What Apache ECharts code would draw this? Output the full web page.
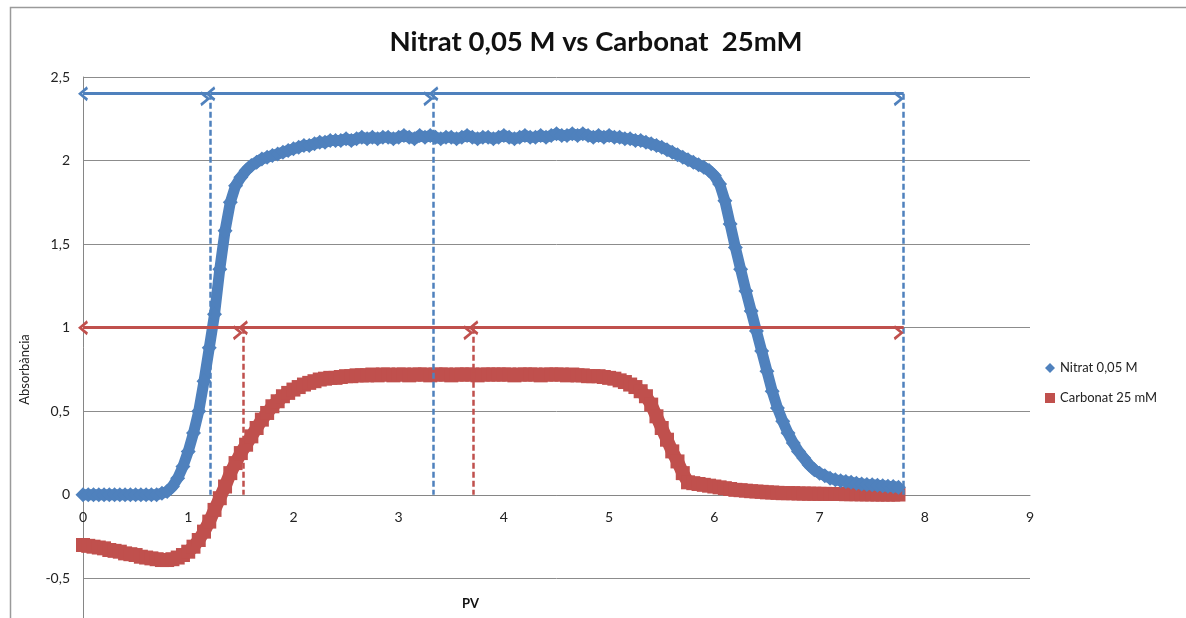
<!DOCTYPE html>
<html><head><meta charset="utf-8">
<script src="https://cdn.jsdelivr.net/npm/echarts@6/dist/echarts.min.js"></script>
<style>html,body{margin:0;padding:0;background:#fff}#c{width:1186px;height:618px}</style>
</head><body><div id="c"></div>
<script>
const pv = [
 0,0.05,0.1,0.15,0.2,0.25,0.3,0.35,0.4,0.45,0.5,0.55,0.6,0.65,0.7,0.75,0.8,0.85,0.9,0.95,
 1,1.05,1.1,1.15,1.2,1.25,1.3,1.35,1.4,1.45,1.5,1.55,1.6,1.65,1.7,1.75,1.8,1.85,1.9,1.95,
 2,2.05,2.1,2.15,2.2,2.25,2.3,2.35,2.4,2.45,2.5,2.55,2.6,2.65,2.7,2.75,2.8,2.85,2.9,2.95,
 3,3.05,3.1,3.15,3.2,3.25,3.3,3.35,3.4,3.45,3.5,3.55,3.6,3.65,3.7,3.75,3.8,3.85,3.9,3.95,
 4,4.05,4.1,4.15,4.2,4.25,4.3,4.35,4.4,4.45,4.5,4.55,4.6,4.65,4.7,4.75,4.8,4.85,4.9,4.95,
 5,5.05,5.1,5.15,5.2,5.25,5.3,5.35,5.4,5.45,5.5,5.55,5.6,5.65,5.7,5.75,5.8,5.85,5.9,5.95,
 6,6.05,6.1,6.15,6.2,6.25,6.3,6.35,6.4,6.45,6.5,6.55,6.6,6.65,6.7,6.75,6.8,6.85,6.9,6.95,
 7,7.05,7.1,7.15,7.2,7.25,7.3,7.35,7.4,7.45,7.5,7.55,7.6,7.65,7.7,7.75
];
const nitrat = [
 0,0,0,0,0,0,0,0,0,0,0,0,0,0,0,0.01,0.02,0.05,0.10,0.17,
 0.26,0.37,0.50,0.68,0.88,1.08,1.35,1.58,1.75,1.85,1.90,1.94,1.97,1.99,2.01,2.02,2.03,2.04,2.05,2.06,
 2.07,2.08,2.09,2.09,2.10,2.11,2.11,2.12,2.12,2.12,2.13,2.12,2.13,2.14,2.13,2.14,2.13,2.14,2.14,2.13,
 2.14,2.15,2.14,2.13,2.15,2.14,2.15,2.14,2.13,2.14,2.14,2.13,2.14,2.15,2.14,2.13,2.14,2.14,2.13,2.14,
 2.15,2.14,2.13,2.14,2.15,2.14,2.14,2.15,2.14,2.15,2.16,2.15,2.15,2.16,2.15,2.16,2.15,2.14,2.15,2.14,
 2.15,2.14,2.14,2.13,2.13,2.12,2.12,2.11,2.10,2.09,2.08,2.065,2.05,2.035,2.02,2.005,1.99,1.975,1.96,1.94,
 1.91,1.86,1.76,1.62,1.48,1.35,1.22,1.10,0.98,0.86,0.74,0.62,0.52,0.44,0.37,0.31,0.26,0.22,0.18,0.15,
 0.13,0.115,0.10,0.09,0.085,0.08,0.075,0.07,0.065,0.062,0.06,0.058,0.055,0.052,0.05,0.045
];
const carbonat = [
 -0.30,-0.305,-0.31,-0.315,-0.32,-0.33,-0.335,-0.34,-0.35,-0.355,-0.36,-0.37,-0.375,-0.38,-0.385,-0.39,-0.39,-0.385,-0.375,-0.36,
 -0.34,-0.31,-0.27,-0.22,-0.16,-0.09,-0.02,0.05,0.13,0.19,0.25,0.30,0.35,0.40,0.45,0.49,0.53,0.56,0.59,0.61,
 0.63,0.645,0.66,0.67,0.68,0.69,0.695,0.70,0.70,0.705,0.71,0.71,0.715,0.715,0.715,0.72,0.715,0.72,0.72,0.715,
 0.72,0.72,0.715,0.72,0.72,0.72,0.715,0.72,0.72,0.72,0.715,0.72,0.72,0.72,0.72,0.715,0.72,0.72,0.72,0.72,
 0.72,0.72,0.715,0.72,0.72,0.72,0.72,0.715,0.72,0.72,0.72,0.72,0.715,0.72,0.715,0.715,0.71,0.71,0.71,0.705,
 0.70,0.695,0.685,0.675,0.66,0.645,0.62,0.59,0.54,0.47,0.40,0.33,0.26,0.20,0.13,0.075,0.07,0.065,0.06,0.055,
 0.05,0.045,0.04,0.035,0.03,0.028,0.025,0.022,0.02,0.018,0.015,0.014,0.012,0.01,0.01,0.01,0.008,0.008,0.007,0.007,
 0.006,0.006,0.005,0.005,0.005,0.004,0.004,0.004,0.003,0.003,0.003,0.002,0.002,0.002,0.002,0.002
];
const seriesNames = ['Nitrat 0,05 M', 'Carbonat 25 mM'];
const titleText = 'Nitrat 0,05 M vs Carbonat  25mM';
const xName = 'PV';
const yName = 'Absorbància';
// annotation arrows (PV positions and level in absorbance)
const blueMarks = [0, 1.21, 3.33, 7.8];
const blueLevel = 2.4;
const redMarks = [0, 1.52, 3.71, 7.8];
const redLevel = 1.0;
const redDropMarks = [1.52, 3.71];

const BLUE = '#4F81BD', RED = '#C0504D';
const FONT = 'Lato, "Open Sans", sans-serif';
const chev = 'path://M0,10 L6,0 L12,10 L9.8,11.4 L6,4.6 L2.2,11.4 Z';

function arrowSegs(marks, level, color) {
  const out = [];
  for (let i = 0; i < marks.length - 1; i++) {
    out.push([{coord: [marks[i], level], lineStyle: {color: color, width: 2.8, type: 'solid'}},
              {coord: [marks[i + 1], level]}]);
  }
  return out;
}
function dropSegs(marks, level, color) {
  return marks.map(m => [{coord: [m, level], symbol: 'none', lineStyle: {color: color, width: 2.5, type: [6, 3]}},
                          {coord: [m, 0], symbol: 'none'}]);
}

const chart = echarts.init(document.getElementById('c'), null, {renderer: 'canvas'});
chart.setOption({
  animation: false,
  backgroundColor: '#fff',
  title: {
    text: titleText, left: 591, top: 23, textAlign: 'center',
    textStyle: {fontFamily: FONT, fontWeight: 'bold', fontSize: 27.5, color: '#111'}
  },
  graphic: [
    {type: 'rect', silent: true, z: -1, shape: {x: 10.5, y: 7.5, width: 1300, height: 800},
     style: {fill: 'none', stroke: '#9a9a9a', lineWidth: 1.5}},
    {type: 'text', left: 462, top: 597, style: {text: xName, font: 'bold 13px ' + FONT, fill: '#111'}}
  ],
  legend: {
    orient: 'vertical', left: 1040, top: 356, itemWidth: 10, itemHeight: 10, itemGap: 16,
    textStyle: {fontFamily: FONT, fontSize: 13, color: '#222', lineHeight: 14},
    data: [{name: seriesNames[0], icon: 'diamond'}, {name: seriesNames[1], icon: 'rect'}]
  },
  grid: {left: 83, top: 77, width: 947, height: 585, outerBoundsMode: 'none', containLabel: false},
  xAxis: {
    type: 'value', min: 0, max: 9, interval: 1, position: 'bottom', offset: -167,
    axisLine: {onZero: false, lineStyle: {color: '#868686', width: 1}},
    axisTick: {show: false}, splitLine: {show: false},
    axisLabel: {margin: 15, fontFamily: FONT, fontSize: 14, color: '#222'}
  },
  yAxis: {
    type: 'value', min: -1, max: 2.5, interval: 0.5,
    name: yName, nameLocation: 'middle', nameGap: 52, nameRotate: 90,
    nameTextStyle: {fontFamily: FONT, fontSize: 13, color: '#222'},
    axisLine: {show: true, onZero: false, lineStyle: {color: '#868686', width: 1}},
    axisTick: {show: false},
    splitLine: {lineStyle: {color: '#8c8c8c', width: 1}},
    axisLabel: {margin: 13, fontFamily: FONT, fontSize: 14, color: '#222',
      formatter: v => String(v).replace('.', ',')}
  },
  series: [
    {
      name: seriesNames[0], type: 'line', data: pv.map((x, i) => [x, nitrat[i]]),
      symbol: 'diamond', symbolSize: 15, showAllSymbol: true, clip: false,
      itemStyle: {color: BLUE}, lineStyle: {color: BLUE, width: 11}, z: 3
    },
    {
      name: seriesNames[1], type: 'line', data: pv.map((x, i) => [x, carbonat[i]]),
      symbol: 'rect', symbolSize: 14, showAllSymbol: true, clip: false,
      itemStyle: {color: RED}, lineStyle: {color: RED, width: 13}, z: 2
    },
    {
      name: 'annot', type: 'line', data: [], z: 5,
      markLine: {
        silent: true, animation: false, symbol: [chev, chev], symbolSize: [15, 10], symbolOffset: [0, 5],
        label: {show: false},
        data: [].concat(
          arrowSegs(blueMarks, blueLevel, BLUE),
          dropSegs(blueMarks.slice(1), blueLevel, BLUE),
          arrowSegs(redMarks, redLevel, RED),
          dropSegs(redDropMarks, redLevel, RED)
        ),
        itemStyle: {color: BLUE}
      }
    }
  ]
});
</script></body></html>
